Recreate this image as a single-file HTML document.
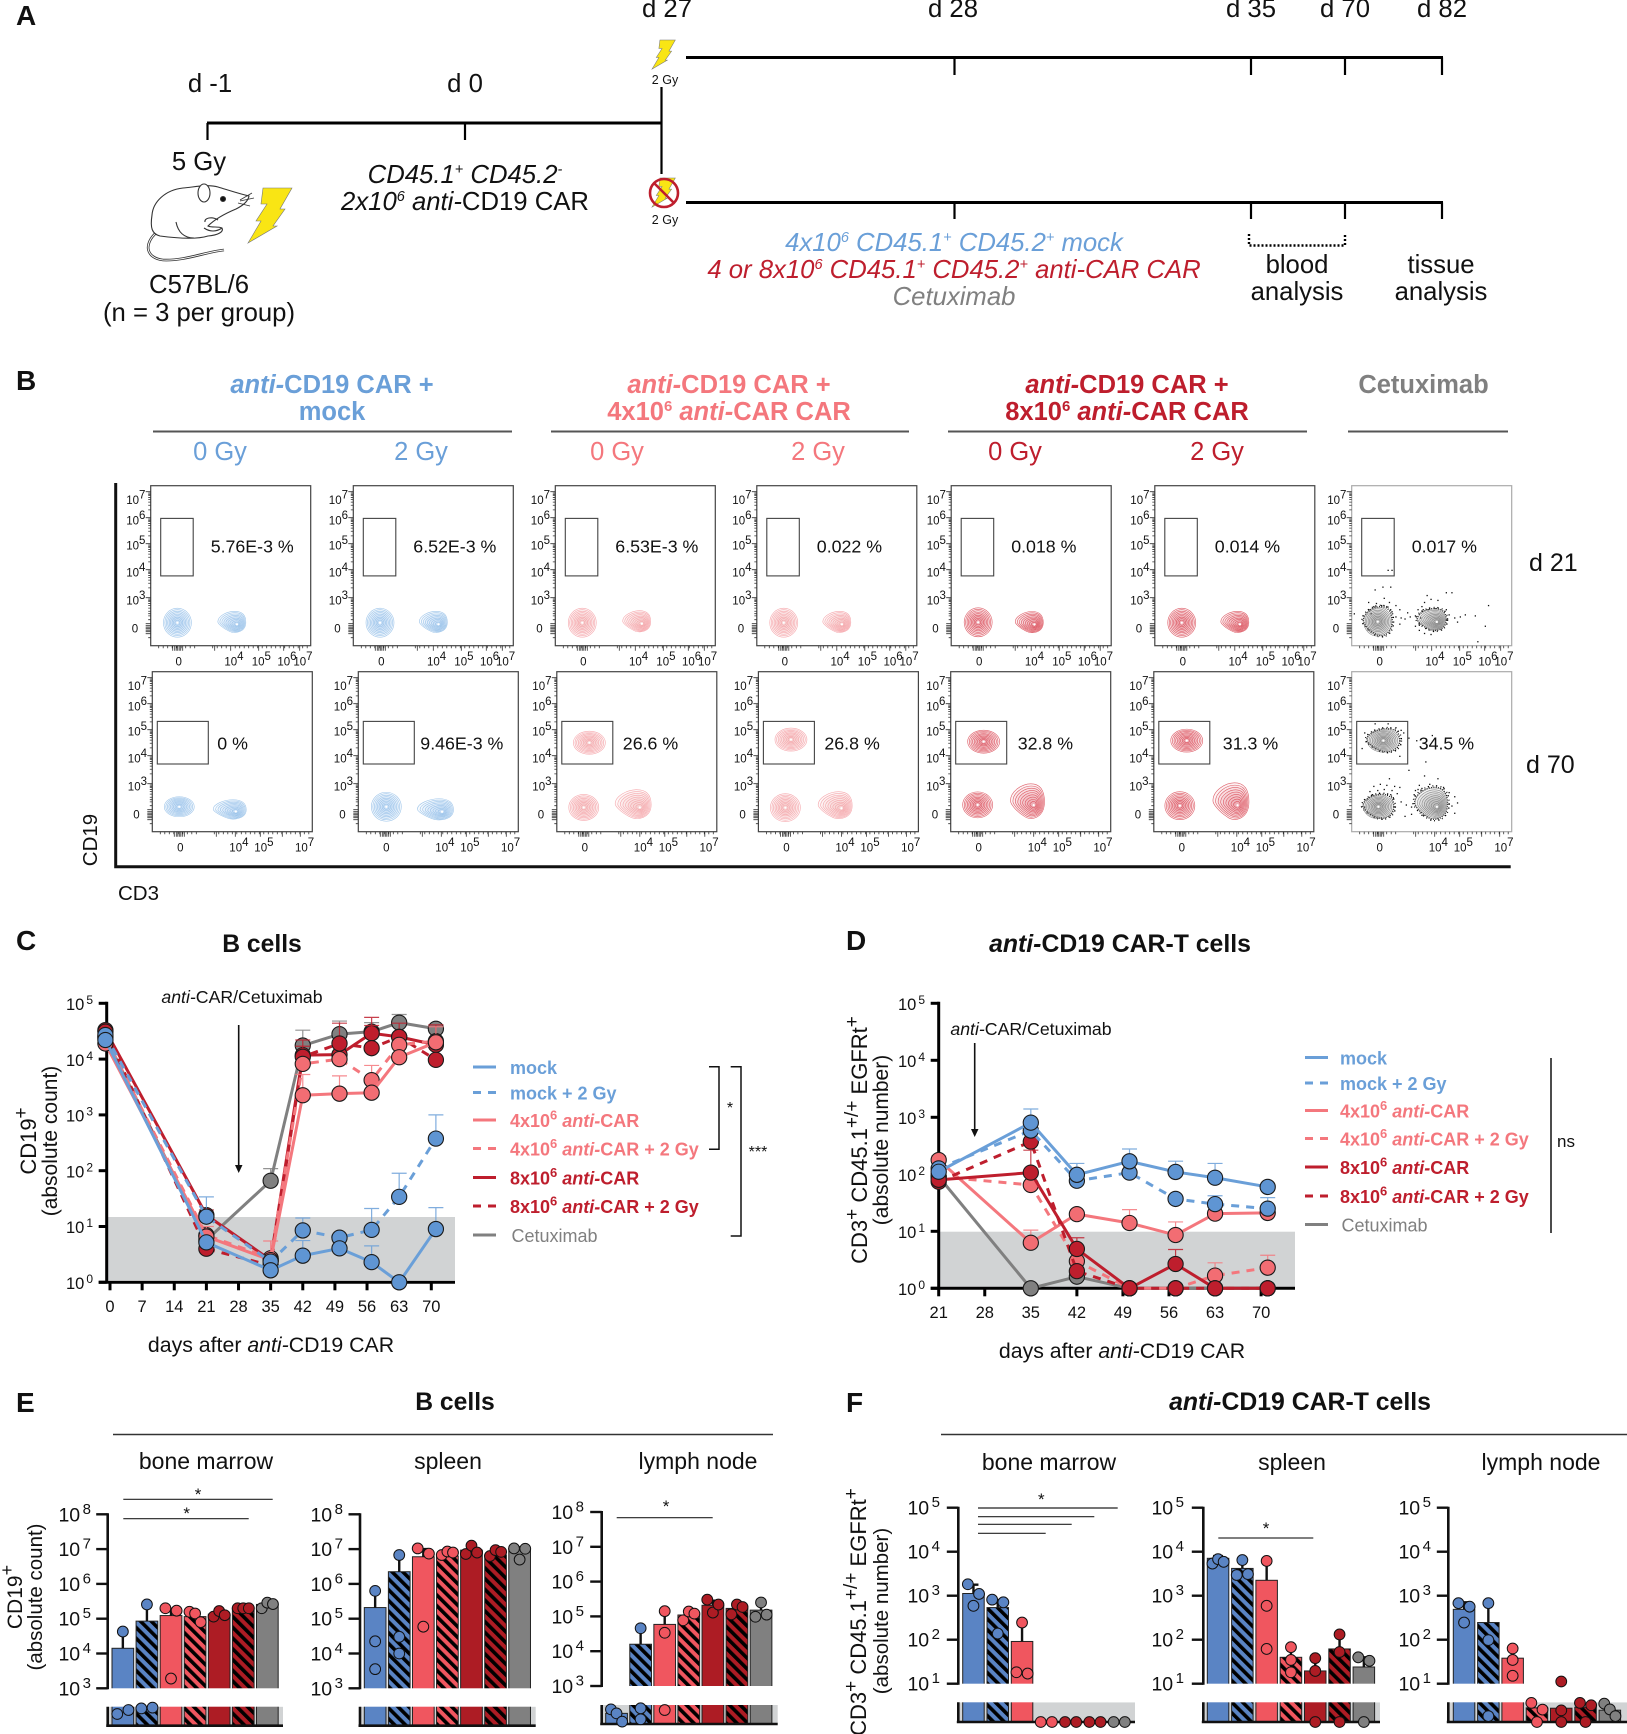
<!DOCTYPE html>
<html>
<head>
<meta charset="utf-8">
<title>anti-CD19 CAR figure</title>
<style>
html,body{margin:0;padding:0;background:#fff}
svg{display:block;font-family:"Liberation Sans",Arial,sans-serif}
</style>
</head>
<body>
<svg id="fig" xmlns="http://www.w3.org/2000/svg" width="1627" height="1734" viewBox="0 0 1627 1734">
<defs>
<pattern id="hatchBlue" patternUnits="userSpaceOnUse" width="7.6" height="7.6" patternTransform="rotate(-45)"><rect width="7.6" height="7.6" fill="#5a84c4"/><rect width="3.6" height="7.6" fill="#000"/></pattern>
<pattern id="hatchPink" patternUnits="userSpaceOnUse" width="7.6" height="7.6" patternTransform="rotate(-45)"><rect width="7.6" height="7.6" fill="#f0565f"/><rect width="3.6" height="7.6" fill="#000"/></pattern>
<pattern id="hatchRed" patternUnits="userSpaceOnUse" width="7.6" height="7.6" patternTransform="rotate(-45)"><rect width="7.6" height="7.6" fill="#ad1c24"/><rect width="3.6" height="7.6" fill="#000"/></pattern>
</defs>
<rect width="1627" height="1734" fill="#fff"/>

<g font-size="25.7" fill="#111" text-anchor="middle">
<text x="16" y="25" font-size="28" font-weight="bold" text-anchor="start">A</text>
<text x="210" y="92">d -1</text>
<text x="465" y="92">d 0</text>
<text x="667" y="17">d 27</text>
<text x="953" y="17">d 28</text>
<text x="1251" y="17">d 35</text>
<text x="1345" y="17">d 70</text>
<text x="1442" y="17">d 82</text>
<g stroke="#000" fill="none">
<path stroke-width="3" d="M207 123H661.5"/>
<path stroke-width="2.2" d="M207.5 123V140M465 123V140"/>
<path stroke-width="2.2" d="M661.5 87V174"/>
<path stroke-width="3" d="M686 57.5H1443"/>
<path stroke-width="2.2" d="M954.5 57.5V75M1251 57.5V75M1345 57.5V75M1442 57.5V75"/>
<path stroke-width="3" d="M686 202.5H1443"/>
<path stroke-width="2.2" d="M954.5 202.5V219M1251 202.5V219M1345 202.5V219M1442 202.5V219"/>
<path stroke-width="2.4" stroke-dasharray="2 2" d="M1249 234V245.5H1345V234"/>
</g>
<text x="199" y="170">5 Gy</text>
<g fill="#fff" stroke="#333" stroke-width="1.1">
<path fill="none" stroke-width="2.6" d="M157 232C143 244 146 258 163 260C185 261 205 252 224 250"/>
<path fill="none" stroke="#fff" stroke-width="1" d="M157 232C143 244 146 258 163 260C185 261 205 252 224 250"/>
<path d="M249 196C240 194 228 190 218 187C208 184 195 187 183 188C165 190 153 202 152 215C150 228 152 234 160 236C175 238 195 240 208 236C218 235 224 232 222 228C218 226 212 228 208 226C214 220 224 214 236 209C242 206 248 202 249 196Z"/>
<ellipse cx="204" cy="193" rx="6" ry="9"/>
<circle cx="223" cy="199" r="2.5" fill="#111"/>
<path fill="none" stroke-width=".8" d="M240 200L252 193M240 201L254 198M238 203L250 206"/>
<path fill="none" d="M176 222C178 232 184 238 194 238M204 228C210 232 216 232 222 228M205 222C204 218 212 216 218 220"/>
</g>
<polygon fill="#f9e514" stroke="#777" stroke-width=".6" points="263,188 292,188 280,209 285,209 273,226 277,226 248,243 261,221 256,221 267,204 261,204"/>
<text x="199" y="293">C57BL/6</text>
<text x="199" y="321">(n = 3 per group)</text>
<text x="465" y="183" font-style="italic">CD45.1<tspan dy="-9" font-size="14.5">+</tspan><tspan dy="9"> CD45.2</tspan><tspan dy="-9" font-size="14.5">-</tspan></text>
<text x="465" y="210"><tspan font-style="italic">2x10</tspan><tspan dy="-9" font-size="14.5" font-style="italic">6</tspan><tspan dy="9" font-style="italic"> anti-</tspan>CD19 CAR</text>
<polygon transform="translate(652,40) scale(.53) translate(-248,-188)" fill="#f9e514" stroke="#777" stroke-width="1" points="263,188 292,188 280,209 285,209 273,226 277,226 248,243 261,221 256,221 267,204 261,204"/>
<text x="665" y="84" font-size="12.5">2 Gy</text>
<polygon transform="translate(652,178) scale(.53) translate(-248,-188)" fill="#f9e514" stroke="#777" stroke-width="1" points="263,188 292,188 280,209 285,209 273,226 277,226 248,243 261,221 256,221 267,204 261,204"/>
<g fill="none" stroke="#be1e2d" stroke-width="2.6">
<circle cx="664" cy="193" r="14"/>
<path d="M654 183L674 203"/>
</g>
<text x="665" y="224" font-size="12.5">2 Gy</text>
<text x="954" y="251" fill="#6a9fd8" font-style="italic">4x10<tspan dy="-9" font-size="14.5">6</tspan><tspan dy="9"> CD45.1</tspan><tspan dy="-9" font-size="14.5">+</tspan><tspan dy="9"> CD45.2</tspan><tspan dy="-9" font-size="14.5">+</tspan><tspan dy="9"> mock</tspan></text>
<text x="954" y="278" fill="#be1e2d" font-style="italic">4 or 8x10<tspan dy="-9" font-size="14.5">6</tspan><tspan dy="9"> CD45.1</tspan><tspan dy="-9" font-size="14.5">+</tspan><tspan dy="9"> CD45.2</tspan><tspan dy="-9" font-size="14.5">+</tspan><tspan dy="9"> anti-CAR CAR</tspan></text>
<text x="954" y="305" fill="#808080" font-style="italic">Cetuximab</text>
<text x="1297" y="273">blood</text>
<text x="1297" y="300">analysis</text>
<text x="1441" y="273">tissue</text>
<text x="1441" y="300">analysis</text>
</g>

<g font-size="25.5" text-anchor="middle">
<text x="16" y="390" font-size="28" font-weight="bold" text-anchor="start" fill="#111">B</text>
<text x="332" y="393" font-weight="bold" fill="#6a9fd8"><tspan font-style="italic">anti-</tspan>CD19 CAR +</text>
<text x="332" y="420" font-weight="bold" fill="#6a9fd8">mock</text>
<text x="729" y="393" font-weight="bold" fill="#f4777d"><tspan font-style="italic">anti-</tspan>CD19 CAR +</text>
<text x="729" y="420" font-weight="bold" fill="#f4777d">4x10<tspan dy="-9" font-size="15">6</tspan><tspan dy="9" font-style="italic"> anti-</tspan>CAR CAR</text>
<text x="1127" y="393" font-weight="bold" fill="#be1e2d"><tspan font-style="italic">anti-</tspan>CD19 CAR +</text>
<text x="1127" y="420" font-weight="bold" fill="#be1e2d">8x10<tspan dy="-9" font-size="15">6</tspan><tspan dy="9" font-style="italic"> anti-</tspan>CAR CAR</text>
<text x="1423.5" y="393" font-weight="bold" fill="#808080">Cetuximab</text>
<path stroke="#555" stroke-width="2" fill="none" d="M153 431.5H512M551 431.5H909M948 431.5H1307M1348 431.5H1508"/>
<text x="220" y="460" fill="#6a9fd8">0 Gy</text>
<text x="421" y="460" fill="#6a9fd8">2 Gy</text>
<text x="617" y="460" fill="#f4777d">0 Gy</text>
<text x="818" y="460" fill="#f4777d">2 Gy</text>
<text x="1015" y="460" fill="#be1e2d">0 Gy</text>
<text x="1217" y="460" fill="#be1e2d">2 Gy</text>
</g>
<g id="flow"></g>
<g>
<path fill="none" stroke="#111" stroke-width="3" d="M115.7 483V866.7H1510.7"/>
<text transform="translate(97,840) rotate(-90)" font-size="20.5" fill="#111" text-anchor="middle">CD19</text>
<text x="118" y="900" font-size="20.5" fill="#111">CD3</text>
<text x="1529" y="571" font-size="25" fill="#111">d 21</text>
<text x="1526" y="773" font-size="25" fill="#111">d 70</text>
</g>

<g fill="#111">
<text x="16" y="950" font-size="28" font-weight="bold">C</text>
<text x="262" y="952" font-size="24.7" font-weight="bold" text-anchor="middle">B cells</text>
<text x="846" y="950" font-size="28" font-weight="bold">D</text>
<text x="1120" y="952" font-size="24.8" font-weight="bold" text-anchor="middle"><tspan font-style="italic">anti-</tspan>CD19 CAR-T cells</text>
<text x="16" y="1412" font-size="28" font-weight="bold">E</text>
<text x="455" y="1410" font-size="24.7" font-weight="bold" text-anchor="middle">B cells</text>
<path stroke="#333" stroke-width="1.4" d="M113 1434.5H773"/>
<text x="846" y="1412" font-size="28" font-weight="bold">F</text>
<text x="1300" y="1410" font-size="24.8" font-weight="bold" text-anchor="middle"><tspan font-style="italic">anti-</tspan>CD19 CAR-T cells</text>
<path stroke="#333" stroke-width="1.4" d="M941 1434.5H1627"/>
</g>
<g id="chartC"></g>
<g id="chartD"></g>

<g fill="#111">
<text transform="translate(36,1141) rotate(-90)" font-size="22" text-anchor="middle">CD19<tspan dy="-9" font-size="19">+</tspan></text>
<text transform="translate(57,1141) rotate(-90)" font-size="21" text-anchor="middle">(absolute count)</text>
<text x="271" y="1352" font-size="21.3" text-anchor="middle">days after <tspan font-style="italic">anti-</tspan>CD19 CAR</text>
<text x="242" y="1003" font-size="17.7" text-anchor="middle"><tspan font-style="italic">anti-</tspan>CAR/Cetuximab</text>
<path stroke="#111" stroke-width="1.6" d="M238.7 1025V1168"/>
<polygon points="235,1165 242.5,1165 238.7,1173"/>
<path fill="none" stroke="#111" stroke-width="1.5" d="M709 1066.7H719V1149.3H709"/>
<path fill="none" stroke="#111" stroke-width="1.5" d="M730.7 1066.7H741V1236H730.7"/>
<text x="730" y="1113" font-size="16" text-anchor="middle">*</text>
<text x="758" y="1157" font-size="16" text-anchor="middle">***</text>
</g>
<g fill="#111">
<text transform="translate(867,1140) rotate(-90)" font-size="22" text-anchor="middle">CD3<tspan dy="-9" font-size="19">+</tspan><tspan dy="9"> CD45.1</tspan><tspan dy="-9" font-size="19">+/+</tspan><tspan dy="9"> EGFRt</tspan><tspan dy="-9" font-size="19">+</tspan></text>
<text transform="translate(888,1140) rotate(-90)" font-size="21" text-anchor="middle">(absolute number)</text>
<text x="1122" y="1358" font-size="21.3" text-anchor="middle">days after <tspan font-style="italic">anti-</tspan>CD19 CAR</text>
<text x="1031" y="1035" font-size="17.7" text-anchor="middle"><tspan font-style="italic">anti-</tspan>CAR/Cetuximab</text>
<path stroke="#111" stroke-width="1.6" d="M974.7 1043V1132"/>
<polygon points="971,1129 978.5,1129 974.7,1137"/>
<path stroke="#111" stroke-width="1.5" d="M1551 1058V1233"/>
<text x="1557" y="1147" font-size="17">ns</text>
</g>
<g id="legendC"></g>
<g id="legendD"></g>

<g font-size="23" fill="#111" text-anchor="middle">
<text x="206" y="1469">bone marrow</text>
<text x="448" y="1469">spleen</text>
<text x="698" y="1469">lymph node</text>
<text x="1049" y="1470">bone marrow</text>
<text x="1292" y="1470">spleen</text>
<text x="1541" y="1470">lymph node</text>
</g>
<g fill="#111">
<text transform="translate(22,1597) rotate(-90)" font-size="21" text-anchor="middle">CD19<tspan dy="-9" font-size="18">+</tspan></text>
<text transform="translate(42,1597) rotate(-90)" font-size="20.5" text-anchor="middle">(absolute count)</text>
</g>
<g fill="#111">
<text transform="translate(866,1612) rotate(-90)" font-size="22" text-anchor="middle">CD3<tspan dy="-9" font-size="19">+</tspan><tspan dy="9"> CD45.1</tspan><tspan dy="-9" font-size="19">+/+</tspan><tspan dy="9"> EGFRt</tspan><tspan dy="-9" font-size="19">+</tspan></text>
<text transform="translate(888,1611) rotate(-90)" font-size="20.5" text-anchor="middle">(absolute number)</text>
</g>
<g id="barsE"></g>
<g id="barsF"></g>
<g fill="#111" font-size="17" text-anchor="middle">
<path stroke="#222" stroke-width="1.2" d="M123.3 1499.3H272.7M123.3 1518.7H248.7"/>
<text x="198" y="1500">*</text>
<text x="186.7" y="1519">*</text>
<path stroke="#222" stroke-width="1.2" d="M616.7 1517.7H712.7"/>
<text x="666" y="1512">*</text>
<path stroke="#222" stroke-width="1.2" d="M978 1508H1117.7M978 1516.7H1094.3M978 1524.3H1071.7M978 1533.3H1045.7"/>
<text x="1041.3" y="1505">*</text>
<path stroke="#333" stroke-width="1.2" d="M1218.3 1538H1313.3"/>
<text x="1266" y="1534">*</text>
</g>

<script>
// ---------- Panel C data: B cells, absolute counts ----------
const cDays = [-1, 21, 35, 42, 50, 57, 63, 71];
const cTickDays = [0, 7, 14, 21, 28, 35, 42, 49, 56, 63, 70];
const cMock = [22000, 5.2, 1.64, 3.0, 4.06, 2.3, 1, 9];
const cMock2 = [27000, 15, 2.35, 8.5, 6.3, 8.7, 34, 376];
const c4x = [19000, 6.6, 2.5, 2250, 2400, 2500, 10800, 20000];
const c4x2 = [24000, 7, 2.7, 8200, 10000, 4200, 18000, 21000];
const c8x = [33000, 16, 2.5, 11800, 12000, 29000, 25000, 18000];
const c8x2 = [31000, 4, 2, 11000, 19000, 15700, 25000, 9700];
const cCet = [25000, 5.7, 66, 17500, 28000, 31000, 45000, 35000];
const cErrMock = [null, null, null, 5.6, null, 4.5, null, 21.8];
const cErrMock2 = [null, 34, null, 14.2, null, 21, 90, 1000];
const cErr4x = [null, 10, 5.5, 5300, 5000, null, null, 38000];
const cErr4x2 = [null, null, null, null, null, 7700, null, null];
const cErr8x = [null, 19.8, null, 17000, null, 56000, 44000, 41000];
const cErr8x2 = [null, null, null, 22000, 44000, 40000, null, null];
const cErrCet = [null, null, 109, 33000, 48000, 45000, 63000, 41000];

// ---------- Panel D data: CAR-T cells, absolute number ----------
const dDays = [21, 35, 42, 50, 57, 63, 71];
const dTickDays = [21, 28, 35, 42, 49, 56, 63, 70];
const dMock = [111, 805, 98, 169, 110, 87, 60];
const dMock2 = [127, 585, 77, 107, 37, 30, 25];
const d4x = [178, 6.3, 20, 14, 8.6, 20.4, 21];
const d4x2 = [91, 65, 3, 1, 1, 1.67, 2.3];
const d8x = [80, 107, 4.9, 1, 2.67, 1, 1];
const d8x2 = [74, 375, 2, 1, 1, 1, 1];
const dCet = [91, 1, 1.6, 1, 1, 1, 1];
const dErrMock = [null, 1400, 155, 278, 170, 155, null];
const dErrMock2 = [null, null, null, null, null, 42, 39];
const dErr4x = [210, 10.5, null, 24, 14.6, null, null];
const dErr4x2 = [null, null, 4.5, null, null, 2.8, 3.8];
const dErr8x = [null, 265, 7.7, null, 4.8, null, null];
const dErr8x2 = [null, null, null, null, null, null, null];
const dErrCet = [null, null, null, null, null, null, null];

// ---------- Shared axis ticks ----------
const lineYExponents = [0, 1, 2, 3, 4, 5];
const eExponents = [3, 4, 5, 6, 7, 8];
const fExponents = [1, 2, 3, 4, 5];

// ---------- Panel E data (log10 of count) ----------
const eBoneBars = [4.15, 4.93, 5.09, 5.06, 5.13, 5.3, 5.41];
const eBoneErr = [4.6, 5.35, 5.28, 5.15, 5.2, 5.32, 5.45];
const eBonePoints = [[4.63, 1.23, 1.65], [5.41, 1.82, 1.9], [5.3, 5.23, 3.28], [5.2, 5.15, 4.9], [5.06, 5.22, 5.1], [5.3, 5.3, 5.3], [5.3, 5.46, 5.42]];
const eSpleenBars = [5.32, 6.35, 6.78, 6.8, 6.97, 6.83, 7.02];
const eSpleenErr = [5.75, 6.8, 7.0, 6.9, 7.05, 6.95, 7.05];
const eSpleenPoints = [[5.8, 4.35, 3.55], [6.83, 4.48, 4.0], [7.02, 6.87, 4.77], [6.83, 6.93, 6.9], [6.86, 7.1, 6.9], [6.8, 6.97, 6.92], [7.02, 6.7, 7.01]];
const eLymphBars = [1.12, 4.2, 4.77, 5.04, 5.32, 5.23, 5.18];
const eLymphErr = [null, 4.65, 5.12, 5.15, 5.45, 5.33, 5.35];
const eLymphPoints = [[1.54, 1.12, 0.25], [4.66, 1.65, 0.5], [5.15, 4.53, 1.47], [4.89, 5.14, 5.08], [5.48, 5.11, 5.34], [5.06, 5.34, 5.27], [4.99, 5.4, 5.05]];

// ---------- Panel F data (log10 of number) ----------
const fBoneBars = [3.05, 2.73, 1.96, 0, 0, 0, 0];
const fBoneErr = [3.25, 2.9, 2.39, null, null, null, null];
const fBonePoints = [[3.26, 3.04, 2.77], [2.91, 2.85, 2.14], [2.39, 1.26, 1.23], [0, 0], [0, 0], [0, 0], [0, 0]];
const fSpleenBars = [3.85, 3.62, 3.35, 1.6, 1.29, 1.79, 1.38];
const fSpleenErr = [3.9, 3.8, 3.79, 1.83, 1.58, 2.12, 1.6];
const fSpleenPoints = [[3.73, 3.83, 3.77], [3.81, 3.47, 3.49], [3.79, 2.77, 1.79], [1.83, 1.54, 1.26], [1.58, 1.29, 0], [2.12, 1.72, 0], [1.6, 1.52, 0]];
const fLymphBars = [2.69, 2.39, 1.58, 0.72, 0.7, 0.75, 0.6];
const fLymphErr = [2.85, 2.83, 1.8, null, null, null, null];
const fLymphPoints = [[2.83, 2.39, 2.75], [2.83, 1.99, 0.3], [1.8, 1.54, 1.18], [0.97, 0.63, 0], [1.05, 0.59, 0], [0.97, 0.85, 0], [0.93, 0.64, 0.3]];

// ---------- Panel B data ----------
const flowRow1Labels = ['5.76E-3 %', '6.52E-3 %', '6.53E-3 %', '0.022 %', '0.018 %', '0.014 %', '0.017 %'];
const flowRow2Labels = ['0 %', '9.46E-3 %', '26.6 %', '26.8 %', '32.8 %', '31.3 %', '34.5 %'];
const flowYExponents = [3, 4, 5, 6, 7];
const flowX1Exponents = [4, 5, 6, 7];
const flowX2Exponents = [4, 5, 7];
// population centres in axis exponents: x, y
const flowRow1Neg = [[-0.1, 0.58], [-0.1, 0.58], [-0.08, 0.58], [-0.08, 0.58], [-0.08, 0.62], [-0.08, 0.58], [-0.15, 0.68]];
const flowRow1Pos = [[4.04, 0.62], [4.0, 0.62], [4.05, 0.68], [4.0, 0.62], [3.85, 0.6], [4.0, 0.62], [4.0, 0.85]];
const flowRow2Neg = [[-0.08, 0.77], [0, 0.77], [-0.08, 0.7], [-0.08, 0.68], [-0.08, 0.95], [-0.15, 0.87], [-0.1, 0.77]];
const flowRow2Pos = [[3.8, 0.48], [3.78, 0.48], [3.72, 0.97], [3.75, 0.87], [3.75, 1.25], [3.78, 1.25], [3.95, 1.05]];
const flowRow2Car = [null, null, [0.35, 4.5], [0.35, 4.62], [0.38, 4.54], [0.38, 4.58], [0.28, 4.58]];
const strayRow1 = [[-.9,2.6],[-.4,3.3],[.2,3.4],[.8,3.4],[.3,3.0],[-.3,2.5],[.7,2.6],[1.2,2.3],[-.8,1.9],[1.5,1.9],[2.1,1.6],[2.7,1.3],[3.1,1.1],[3.2,2.2],[3.4,2.6],[3.6,3.1],[3.9,2.9],[4.2,2.8],[4.5,3.2],[4.7,3.2],[2.9,1.9],[2.7,0.3],[3.0,-.1],[5.0,1.2],[5.2,1.4],[5.6,1.3],[6.2,2.3],[6.0,.3],[5.7,-1.2],[1.5,.5],[1.2,1.2],[-2,1.5],[.6,4.0],[.9,4.0],[4.6,1.4],[4.9,.7],[-.5,2.2],[.1,2.3],[.5,2.2],[-.7,1.5],[.9,1.7],[1.6,1.1],[1.9,1.0],[2.3,1.2],[3.3,1.9],[3.7,1.9],[4.1,2.0],[4.5,1.9],[4.8,1.1],[3.0,.4],[3.4,-.4],[3.9,-.5]];
const strayRow2 = [[-.8,2.3],[-.5,2.8],[0,3.0],[.5,2.9],[.9,2.4],[1.3,2.1],[1.6,1.3],[2,1.0],[2.4,.8],[2.7,2.4],[3.0,2.9],[3.4,3.3],[3.8,3.0],[4.2,3.2],[4.6,2.2],[4.7,.9],[4.8,.2],[2.4,.1],[1.9,-.1],[-1.2,.8],[1.8,4.9],[2.2,4.7],[2.8,4.6],[3.5,3.8],[4.0,4.8],[2.2,3.5],[.7,3.2],[3.2,.0],[4.2,-.3],[1.5,2.7],[-1,1.6],[1,1.7],[-.6,2.0],[-.2,2.4],[.3,2.5],[.8,2.0],[1.1,2.8],[2.6,2.0],[2.9,2.5],[3.2,2.6],[4.4,2.7],[4.8,1.8],[4.9,1.2],[-1.4,4.3],[-1.2,4.9],[1.5,4.0],[1.6,5.0],[-.4,5.25],[.6,5.25],[1.2,5.1]];

// ---------- Legends ----------
const legendLabels = ['mock', 'mock + 2 Gy', '4x10^6 anti-CAR', '4x10^6 anti-CAR + 2 Gy', '8x10^6 anti-CAR', '8x10^6 anti-CAR + 2 Gy', 'Cetuximab'];

const NS = 'http://www.w3.org/2000/svg';
function mk(tag, attrs, parent) {
  const e = document.createElementNS(NS, tag);
  for (const k in attrs) e.setAttribute(k, attrs[k]);
  parent.appendChild(e);
  return e;
}
function supText(parent, x, y, base, exp, size, anchor, supSize, rise, gap) {
  const t = mk('text', {x: x, y: y, 'font-size': size, 'text-anchor': anchor, fill: '#111'}, parent);
  t.appendChild(document.createTextNode(base));
  if (exp !== null) {
    const s = mk('tspan', {dy: -rise, dx: gap, 'font-size': supSize}, t);
    s.textContent = exp;
  }
  return t;
}
const COL = {
  blueLine: '#6a9fd8', blueDot: '#5f95d3', pinkLine: '#f4777d', pinkDot: '#f26d73',
  redLine: '#be1e2d', greyLine: '#808080'
};

// ---------- Flow cytometry plots ----------
const flowLeft1 = [150.7, 353.3, 555.3, 756.8, 951.2, 1154.8, 1351.7];
const flowLeft2 = [152.3, 358.3, 556.8, 758.4, 950.7, 1153.8, 1351.7];
const flowStroke = ['#8fbce6', '#8fbce6', '#f49aa0', '#f49aa0', '#d8434f', '#d8434f', '#777'];
const flowTop1 = 485.7, flowTop2 = 671.7;
function interp(v, xs, ys) {
  if (v <= xs[0]) return ys[0] + (v - xs[0]) * (ys[1] - ys[0]) / (xs[1] - xs[0]);
  for (let i = 1; i < xs.length; i++) if (v <= xs[i]) return ys[i - 1] + (v - xs[i - 1]) * (ys[i] - ys[i - 1]) / (xs[i] - xs[i - 1]);
  return ys[ys.length - 1];
}
const flowExp = [0, 3, 4, 5, 6, 7];
const flowYPx = [143, 112, 84, 58, 32, 6];
const flowXExp = [0, 4, 5, 6, 7];
const flowXPx = [28, 80, 108, 133, 149];
function flowX(v) { return interp(v, flowXExp, flowXPx); }
function flowY(v) { return interp(v, flowExp, flowYPx); }
function eggPath(cx, cy, rx, ry) {
  return 'M' + (cx + rx) + ' ' + cy +
    'C' + (cx + rx) + ' ' + (cy + ry * .9) + ' ' + (cx + .2 * rx) + ' ' + (cy + ry * 1.1) + ' ' + (cx - .2 * rx) + ' ' + (cy + ry * .8) +
    'C' + (cx - .7 * rx) + ' ' + (cy + ry * .5) + ' ' + (cx - rx) + ' ' + (cy + ry * .1) + ' ' + (cx - rx) + ' ' + (cy - ry * .05) +
    'C' + (cx - rx) + ' ' + (cy - ry * .6) + ' ' + (cx - .3 * rx) + ' ' + (cy - ry) + ' ' + (cx + .2 * rx) + ' ' + (cy - ry) +
    'C' + (cx + .7 * rx) + ' ' + (cy - ry) + ' ' + (cx + rx) + ' ' + (cy - ry * .7) + ' ' + (cx + rx) + ' ' + cy + 'Z';
}
function ringSet(g, cx, cy, rx, ry, hx, hy, color, black, egg) {
  const n = 9;
  if (black) {
    [[1.03, '0.9 1.4'], [1.13, '0.9 2.6 1.3 3.4']].forEach(function (o2) {
      const o = mk('path', {d: egg ? eggPath(cx, cy, rx * o2[0], ry * o2[0]) : eggPath(cx, cy, rx * o2[0], ry * o2[0]).replace(/$/, ''), fill: 'none', stroke: '#000', 'stroke-width': 1.4, 'stroke-dasharray': o2[1]}, g);
      
      
    });
  }
  for (let i = 0; i < n; i++) {
    const t = 1 - i / n * 0.92;
    const ccx = cx + hx * (1 - t), ccy = cy + hy * (1 - t);
    const attrs = {fill: color, 'fill-opacity': black ? 0.07 : 0.06, stroke: color, 'stroke-width': 0.6, 'stroke-opacity': 0.85};
    let e;
    if (egg) {
      attrs.d = eggPath(ccx, ccy, rx * t, ry * t);
      e = mk('path', attrs, g);
    } else {
      attrs.cx = ccx; attrs.cy = ccy; attrs.rx = rx * t; attrs.ry = ry * t;
      e = mk('ellipse', attrs, g);
    }
    
    
  }
  const w = mk('circle', {cx: cx + hx * 0.92, cy: cy + hy * 0.92, r: 1.1, fill: '#fff'}, g);
  
  
}
function tickPath(row) {
  let d = '';
  const yMaj = [112, 84, 58, 32, 6];
  const frac = [.3, .48, .6, .7, .78, .85, .9, .95];
  yMaj.forEach(function (y) {
    d += 'M-5 ' + y + 'H0';
    frac.forEach(function (f) { if (y + 26 * (1 - f) < 150) d += 'M-2.5 ' + (y + 26 * (1 - f)) + 'H0'; });
  });
  [128, 134, 138, 140, 141.5, 143, 144.5, 146, 148, 152].forEach(function (y) { d += 'M-' + (y > 137 && y < 149 ? 5 : 2.5) + ' ' + y + 'H0'; });
  const xMaj = row === 0 ? [64, 80, 108, 133, 149] : [64, 83, 108, 130, 148];
  xMaj.forEach(function (x) { d += 'M' + x + ' 160v5'; });
  for (let x = 8; x < 160; x += 4.5) if (x < 48 || x > 60) d += 'M' + x + ' 160v2.5';
  [22, 24, 25.5, 27, 28.5, 30, 32].forEach(function (x) { d += 'M' + x + ' 160v5'; });
  return d;
}
function drawFlow(row, col) {
  const root = document.getElementById('flow');
  const left = row === 0 ? flowLeft1[col] : flowLeft2[col];
  const top = row === 0 ? flowTop1 : flowTop2;
  const g = mk('g', {transform: 'translate(' + left + ',' + top + ')'}, root);
  
  
  const isCet = col === 6;
  const f = mk('rect', {x: 0, y: 0, width: 160, height: 160, fill: '#fff', stroke: isCet ? '#aaa' : '#444', 'stroke-width': 1.2}, g);
  
  
  const tp = mk('path', {d: tickPath(row), stroke: '#333', 'stroke-width': 0.8, fill: 'none'}, g);
  
  
  const baselines = {3: 118.7, 4: 90.7, 5: 64, 6: 38.7, 7: 18.3};
  flowYExponents.forEach(function (ex) {
    const t = supText(g, -24.5, baselines[ex], '10', String(ex), 11.5, 'start', 11.5, 5.5, 0);
    
    
  });
  const y0 = supText(g, -19, 147, '0', null, 11.5, 'start');
  
  
  const x0 = supText(g, 28, 180, '0', null, 11.5, 'middle');
  
  
  const xs = row === 0 ? {4: 73.7, 5: 101, 6: 126.7, 7: 142.7} : {4: 77, 5: 102, 7: 142.7};
  (row === 0 ? flowX1Exponents : flowX2Exponents).forEach(function (ex) {
    const t = supText(g, xs[ex], 180, '10', String(ex), 11.5, 'start', 11.5, 5.5, 0);
    
    
  });
  const gate = row === 0 ? {x: 10, y: 32.7, w: 32.5, h: 57.5} : {x: 5, y: 49.7, w: 51, h: 42.6};
  const gr = mk('rect', {x: gate.x, y: gate.y, width: gate.w, height: gate.h, fill: 'none', stroke: '#444', 'stroke-width': 1.1}, g);
  
  
  const color = flowStroke[col];
  const neg = row === 0 ? flowRow1Neg[col] : flowRow2Neg[col];
  const pos = row === 0 ? flowRow1Pos[col] : flowRow2Pos[col];
  const negRy = row === 0 ? 14.5 : [10, 14.5, 13, 14, 13, 14, 12][col];
  const negRx = row === 0 ? 14 : 15;
  const posRx = row === 0 ? 14 : [16.5, 18, 18, 17, 17, 18, 16][col];
  const posRy = row === 0 ? 11 : [10, 11, 15, 14, 18, 19, 16][col];
  if (isCet) {
    (row === 0 ? strayRow1 : strayRow2).forEach(function (p) {
      const c = mk('rect', {x: flowX(p[0]), y: flowY(p[1]), width: 1.3, height: 1.3, fill: '#111'}, g);
      
      
    });
  }
  ringSet(g, flowX(neg[0]), flowY(neg[1]), negRx, negRy, 0, 0, color, isCet, false);
  ringSet(g, flowX(pos[0]), flowY(pos[1]), posRx, posRy, posRx * 0.4, posRy * 0.2, color, isCet, true);
  if (row === 1 && flowRow2Car[col]) {
    const car = flowRow2Car[col];
    ringSet(g, flowX(car[0]), flowY(car[1]), 16, 11.5, 0, 0, color, isCet, false);
  }
  const labelX = row === 0 ? 60 : [65, 62, 66, 66, 67, 69, 67][col];
  const lab = mk('text', {x: labelX, y: row === 0 ? 67 : 78, 'font-size': 17.8, fill: '#111'}, g);
  lab.textContent = row === 0 ? flowRow1Labels[col] : flowRow2Labels[col];
  
  
}
for (let c = 0; c < 7; c++) { drawFlow(0, c); drawFlow(1, c); }

// ---------- Line charts ----------
function drawLineChart(id, cfg) {
  const g = document.getElementById(id);
  const band = mk('rect', {x: cfg.axisX, y: cfg.bandTop, width: cfg.axisEnd - cfg.axisX, height: cfg.bandBottom - cfg.bandTop, fill: '#d1d3d4'}, g);
  
  
  function sx(d) { return cfg.x0 + (d - cfg.d0) * cfg.perDay; }
  function sy(v) { return cfg.yBase - Math.log10(v) * cfg.perDecade; }
  const yAxis = mk('path', {d: 'M' + cfg.axisX + ' ' + (cfg.yBase - 5 * cfg.perDecade - 1.5) + 'V' + cfg.yBase, stroke: '#000', 'stroke-width': 3, fill: 'none'}, g);
  
  
  const xAxis = mk('path', {d: 'M' + (cfg.axisX - 8) + ' ' + cfg.yBase + 'H' + cfg.axisEnd, stroke: '#000', 'stroke-width': 3, fill: 'none'}, g);
  
  
  lineYExponents.forEach(function (ex) {
    const y = sy(Math.pow(10, ex));
    const tk = mk('path', {d: 'M' + (cfg.axisX - 8) + ' ' + y + 'H' + cfg.axisX, stroke: '#000', 'stroke-width': 3}, g);
    
    
    const t = supText(g, cfg.yLabelX, y + 6.7, '10', String(ex), 16.5, 'end', 12, 6, 2);
    
    
  });
  cfg.ticks.forEach(function (d) {
    const x = sx(d);
    const tk = mk('path', {d: 'M' + x + ' ' + cfg.yBase + 'v8', stroke: '#000', 'stroke-width': 3}, g);
    
    
    const t = supText(g, x, cfg.xLabelY, String(d), null, 16.5, 'middle');
    
    
  });
  cfg.series.forEach(function (s) {
    const sg = mk('g', {}, g);
    
    
    s.err.forEach(function (e, i) {
      if (e === null) return;
      const x = sx(cfg.days[i]);
      const w = mk('path', {d: 'M' + x + ' ' + sy(s.vals[i]) + 'V' + sy(e) + 'M' + (x - 7.5) + ' ' + sy(e) + 'H' + (x + 7.5), stroke: s.line, 'stroke-width': 1.2, fill: 'none', opacity: 0.85}, sg);
      
      
    });
    const d = s.vals.map(function (v, i) { return (i ? 'L' : 'M') + sx(cfg.days[i]) + ' ' + sy(v); }).join('');
    const l = mk('path', {d: d, fill: 'none', stroke: s.line, 'stroke-width': 3, 'stroke-dasharray': s.dash ? '8 7' : 'none', 'stroke-linejoin': 'round'}, sg);
    
    
    s.vals.forEach(function (v, i) {
      const c = mk('circle', {cx: sx(cfg.days[i]), cy: sy(v), r: 7.6, fill: s.dot, stroke: '#1a1a1a', 'stroke-width': 1.1}, sg);
      
      
    });
  });
}
drawLineChart('chartC', {
  axisX: 106.7, axisEnd: 455, bandTop: 1217, bandBottom: 1280, x0: 110, d0: 0, perDay: 4.59,
  yBase: 1282.3, perDecade: 55.8, yLabelX: 93, xLabelY: 1312, days: cDays, ticks: cTickDays,
  series: [
    {name: 'cetuximab', vals: cCet, err: cErrCet, line: COL.greyLine, dot: COL.greyLine, dash: false},
    {name: '8x-anti-car', vals: c8x, err: cErr8x, line: COL.redLine, dot: COL.redLine, dash: false},
    {name: '8x-anti-car-2gy', vals: c8x2, err: cErr8x2, line: COL.redLine, dot: COL.redLine, dash: true},
    {name: '4x-anti-car-2gy', vals: c4x2, err: cErr4x2, line: COL.pinkLine, dot: COL.pinkDot, dash: true},
    {name: '4x-anti-car', vals: c4x, err: cErr4x, line: COL.pinkLine, dot: COL.pinkDot, dash: false},
    {name: 'mock-2gy', vals: cMock2, err: cErrMock2, line: COL.blueLine, dot: COL.blueDot, dash: true},
    {name: 'mock', vals: cMock, err: cErrMock, line: COL.blueLine, dot: COL.blueDot, dash: false}
  ]
});
drawLineChart('chartD', {
  axisX: 938.7, axisEnd: 1295, bandTop: 1231.7, bandBottom: 1286.7, x0: 938.7, d0: 21, perDay: 6.58,
  yBase: 1288.3, perDecade: 57, yLabelX: 925, xLabelY: 1318, days: dDays, ticks: dTickDays,
  series: [
    {name: 'cetuximab', vals: dCet, err: dErrCet, line: COL.greyLine, dot: COL.greyLine, dash: false},
    {name: '4x-anti-car', vals: d4x, err: dErr4x, line: COL.pinkLine, dot: COL.pinkDot, dash: false},
    {name: '4x-anti-car-2gy', vals: d4x2, err: dErr4x2, line: COL.pinkLine, dot: COL.pinkDot, dash: true},
    {name: '8x-anti-car-2gy', vals: d8x2, err: dErr8x2, line: COL.redLine, dot: COL.redLine, dash: true},
    {name: '8x-anti-car', vals: d8x, err: dErr8x, line: COL.redLine, dot: COL.redLine, dash: false},
    {name: 'mock-2gy', vals: dMock2, err: dErrMock2, line: COL.blueLine, dot: COL.blueDot, dash: true},
    {name: 'mock', vals: dMock, err: dErrMock, line: COL.blueLine, dot: COL.blueDot, dash: false}
  ]
});

// ---------- Legends ----------
const legendColors = [COL.blueLine, COL.blueLine, COL.pinkLine, COL.pinkLine, COL.redLine, COL.redLine, COL.greyLine];
const legendDashed = [false, true, false, true, false, true, false];
function drawLegend(id, lineX, textX, ys) {
  const g = document.getElementById(id);
  legendLabels.forEach(function (lbl, i) {
    const en = mk('g', {}, g);
    
    
    const ln = mk('path', {d: 'M' + lineX + ' ' + ys[i] + 'h23', stroke: legendColors[i], 'stroke-width': 3, 'stroke-dasharray': legendDashed[i] ? '8 7' : 'none'}, en);
    
    
    const t = mk('text', {x: textX + (i === 6 ? 1.5 : 0), y: ys[i] + 7, 'font-size': 18, 'font-weight': i === 6 ? 'normal' : 'bold', fill: legendColors[i]}, en);
    
    
    if (lbl.indexOf('^') > 0) {
      t.appendChild(document.createTextNode('4x10'.replace('4', lbl[0])));
      const s = mk('tspan', {dy: -7.5, 'font-size': 13}, t);
      s.textContent = '6';
      const a = mk('tspan', {dy: 7.5, 'font-style': 'italic'}, t);
      a.textContent = ' anti-';
      const rest = mk('tspan', {}, t);
      rest.textContent = lbl.split('anti-')[1];
    } else {
      t.textContent = lbl;
    }
  });
}
drawLegend('legendC', 473, 510, [1067, 1092.5, 1120, 1148.5, 1177.5, 1206, 1235]);
drawLegend('legendD', 1305, 1340, [1057.5, 1083, 1110.5, 1138.5, 1167, 1196, 1224.5]);

// ---------- Bar panels ----------
const barFills = ['#5a84c4', 'url(#hatchBlue)', '#f0565f', 'url(#hatchPink)', '#ad1c24', 'url(#hatchRed)', '#808080'];
const barDots = ['#5a84c4', '#5a84c4', '#f0565f', '#f0565f', '#ad1c24', '#ad1c24', '#808080'];
function drawBars(id, cfg) {
  const root = document.getElementById(id);
  const g = mk('g', {}, root);
  
  
  function sy(l) {
    if (l >= cfg.base) return cfg.yLow - (l - cfg.base) * cfg.perDecade;
    return cfg.yBottom - Math.min(l / cfg.lowerSpan, 1) * (cfg.yBottom - cfg.yLowerTop);
  }
  const grey = mk('rect', {x: cfg.axisX, y: cfg.yLowerTop, width: cfg.baseEnd - cfg.axisX, height: cfg.yBottom - cfg.yLowerTop, fill: '#d1d3d4'}, g);
  
  
  cfg.bars.forEach(function (v, i) {
    if (v <= 0) return;
    const x = cfg.start + i * cfg.pitch;
    const b = mk('rect', {x: x, y: sy(v), width: cfg.barW, height: cfg.yBottom - sy(v), fill: barFills[i], stroke: '#222', 'stroke-width': 1}, g);
    
    
  });
  const gap = mk('rect', {x: cfg.axisX - 1, y: cfg.yLow, width: cfg.baseEnd - cfg.axisX + 2, height: cfg.yLowerTop - cfg.yLow, fill: '#fff'}, g);
  
  
  const upper = mk('path', {d: 'M' + cfg.axisX + ' ' + (sy(cfg.base + cfg.ticks.length - 1) - 1) + 'V' + (cfg.yLow + 1), stroke: '#111', 'stroke-width': 2.6, fill: 'none'}, g);
  
  
  const lower = mk('path', {d: 'M' + cfg.axisX + ' ' + cfg.yLowerTop + 'V' + cfg.yBottom + 'M' + (cfg.axisX - 1.5) + ' ' + cfg.yBottom + 'H' + cfg.baseEnd, stroke: '#111', 'stroke-width': 2.6, fill: 'none'}, g);
  
  
  cfg.ticks.forEach(function (ex) {
    const y = sy(ex);
    const tk = mk('path', {d: 'M' + (cfg.axisX - 11.5) + ' ' + y + 'H' + cfg.axisX, stroke: '#111', 'stroke-width': 2.4}, g);
    
    
    const t = supText(g, cfg.labelEnd, y + 7, '10', String(ex), 19.5, 'end', 15, 7.5, 2.5);
    
    
  });
  cfg.err.forEach(function (e, i) {
    if (e === null) return;
    const cx = cfg.start + i * cfg.pitch + cfg.barW / 2;
    const w = mk('path', {d: 'M' + cx + ' ' + sy(cfg.bars[i]) + 'V' + sy(e) + 'M' + (cx - 5) + ' ' + sy(e) + 'H' + (cx + 5), stroke: '#111', 'stroke-width': 2.4, fill: 'none'}, g);
    
    
  });
  cfg.points.forEach(function (vals, i) {
    const cx = cfg.start + i * cfg.pitch + cfg.barW / 2;
    const ys = vals.map(sy);
    const order = ys.map(function (y, k) { return k; }).sort(function (a, b) { return ys[a] - ys[b]; });
    const groups = [];
    order.forEach(function (k, n) {
      if (n && ys[k] - ys[order[n - 1]] < 10.5) groups[groups.length - 1].push(k);
      else groups.push([k]);
    });
    groups.forEach(function (grp) {
      grp.sort(function (a, b) { return a - b; });
      grp.forEach(function (k, n) {
        const off = grp.length === 1 ? 0 : grp.length === 2 ? (n ? 5.6 : -5.6) : (n - 1) * 5.6;
        const c = mk('circle', {cx: cx + off, cy: ys[k], r: 5.4, fill: barDots[i], stroke: '#111', 'stroke-width': 1}, g);
        
        
      });
    });
  });
}
const eGeom = {base: 3, perDecade: 34.8, lowerSpan: 2, ticks: eExponents, barW: 21.7, pitch: 24.08};
const fGeom = {base: 1, perDecade: 44, lowerSpan: 1, ticks: fExponents, barW: 21.5, pitch: 24.3, yLow: 1683.7, yLowerTop: 1702.3, yBottom: 1722};
drawBars('barsE', Object.assign({}, eGeom, {name: 'e-bone-marrow-chart', axisX: 107.7, baseEnd: 283, start: 112, labelEnd: 91, yLow: 1688.3, yLowerTop: 1706.7, yBottom: 1725.7, bars: eBoneBars, err: eBoneErr, points: eBonePoints}));
drawBars('barsE', Object.assign({}, eGeom, {name: 'e-spleen-chart', axisX: 360, baseEnd: 535.7, start: 364.3, labelEnd: 343, yLow: 1688.3, yLowerTop: 1706.7, yBottom: 1725.7, bars: eSpleenBars, err: eSpleenErr, points: eSpleenPoints}));
drawBars('barsE', Object.assign({}, eGeom, {name: 'e-lymph-node-chart', axisX: 601.7, baseEnd: 777.7, start: 605.7, labelEnd: 584, yLow: 1686, yLowerTop: 1705, yBottom: 1724, bars: eLymphBars, err: eLymphErr, points: eLymphPoints}));
drawBars('barsF', Object.assign({}, fGeom, {name: 'f-bone-marrow-chart', axisX: 958.3, baseEnd: 1135, start: 962.7, labelEnd: 940, bars: fBoneBars, err: fBoneErr, points: fBonePoints}));
drawBars('barsF', Object.assign({}, fGeom, {name: 'f-spleen-chart', axisX: 1203.3, baseEnd: 1380, start: 1207.3, labelEnd: 1184, bars: fSpleenBars, err: fSpleenErr, points: fSpleenPoints}));
drawBars('barsF', Object.assign({}, fGeom, {name: 'f-lymph-node-chart', axisX: 1448.3, baseEnd: 1627, start: 1453.3, labelEnd: 1431, bars: fLymphBars, err: fLymphErr, points: fLymphPoints}));
</script>
</svg>
</body>
</html>
